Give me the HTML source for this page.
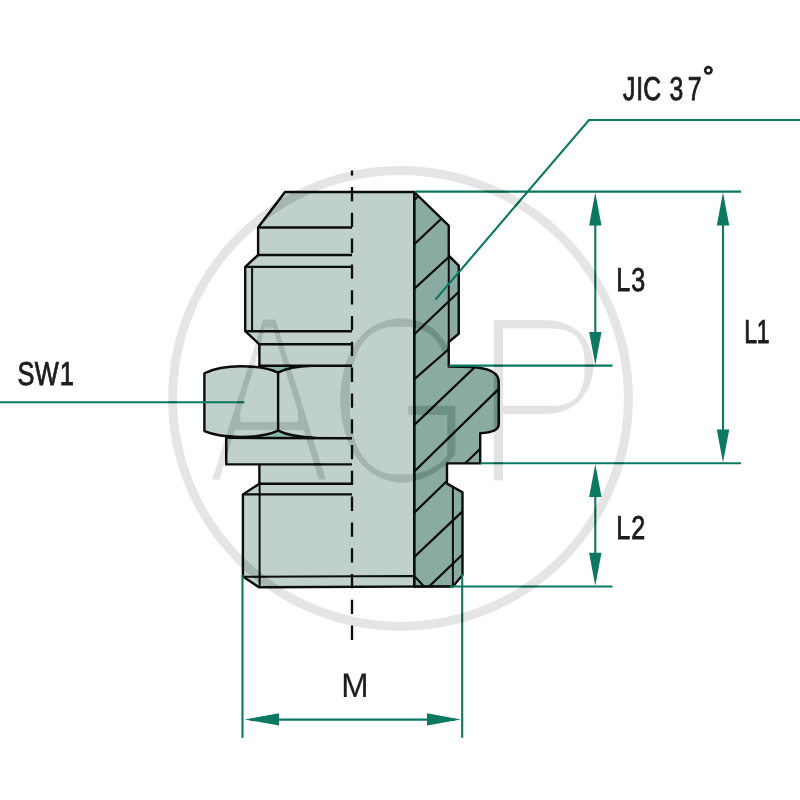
<!DOCTYPE html>
<html lang="en">
<head>
<meta charset="utf-8">
<title>JIC 37° adapter drawing</title>
<style>
html,body{margin:0;padding:0;background:#fff;}
body{width:800px;height:800px;overflow:hidden;}
svg{display:block;}
.lbl{font-family:"Liberation Sans",sans-serif;font-size:33px;fill:#1d1d1b;stroke:#1d1d1b;stroke-width:0.9px;text-rendering:geometricPrecision;}
.lbl text{vector-effect:non-scaling-stroke;}
.lbl .m{font-size:34.2px;stroke-width:0.15px;}
.lbl .deg{font-size:28px;stroke-width:1.2px;}
.k{stroke:#0c0c0c;stroke-width:2.4;fill:none;stroke-linejoin:round;stroke-linecap:butt;}
.k .t{stroke-width:2;}
.g{stroke:#0b7862;stroke-width:2.1;fill:none;}
.a{fill:#0b7862;stroke:none;}
</style>
</head>
<body>
<svg width="800" height="800" viewBox="0 0 800 800">
<defs>
  <clipPath id="sec"><path d="M414.2,192 L448.75,225.6 L448.75,255.6 L458.75,265.6 L458.75,333.75 L448.75,342 L448.75,366.6 L473,367 C483,367.8 492,370.6 495.6,374 C497.6,376 498.6,378.5 498.7,382 L498.7,424.5 C498.6,430 492,432.6 480.2,433.3 L480.2,463.4 L447,463.4 L447,483.6 L462.5,492.2 L462.5,575 L453,586.4 L414.2,586.6 Z"/></clipPath>
  <filter id="thinA" x="-5%" y="-5%" width="110%" height="110%"><feMorphology operator="erode" radius="4 5"/></filter>
  <filter id="thinG" x="-5%" y="-5%" width="110%" height="110%"><feMorphology operator="erode" radius="4 5"/></filter>
  <filter id="thinP" x="-5%" y="-5%" width="110%" height="110%"><feMorphology operator="erode" radius="5 5"/></filter>
</defs>
<rect width="800" height="800" fill="#fff"/>

<!-- exterior (left) body fill -->
<path fill="#c0d0cb" d="M285,192 L414.2,192 L414.2,586.6 L259,587.4 L242.9,576.5 L242.9,494.4 L259.4,483.75 L259.4,464.4 L226.25,464.4 L226.25,437 C214,435.5 208,433.5 204.4,431.2 L204.4,373.2 C212,369 225,366.2 241,366.2 L259.4,366 L259.4,344.3 L245.2,331.2 L245.2,266.9 L258.1,255 L258.1,227.5 Z"/>
<!-- section fill -->
<path fill="#89aba2" d="M414.2,192 L448.75,225.6 L448.75,255.6 L458.75,265.6 L458.75,333.75 L448.75,342 L448.75,366.6 L473,367 C483,367.8 492,370.6 495.6,374 C497.6,376 498.6,378.5 498.7,382 L498.7,424.5 C498.6,430 492,432.6 480.2,433.3 L480.2,463.4 L447,463.4 L447,483.6 L462.5,492.2 L462.5,575 L453,586.4 L414.2,586.6 Z"/>
<!-- nut chamfer triangles -->
<path fill="#8db8ab" d="M258,365.6 L312,365.6 C296,366.4 286,368.2 278.1,372.6 C272,369.3 266,367.4 258,366.6 Z"/>
<path fill="#8db8ab" d="M258,438.1 L316,438.1 C298,437.2 287,435 278.1,430.6 C272,433.8 266,435.8 258,436.8 Z"/>

<!-- hatching -->
<g clip-path="url(#sec)" class="k" style="stroke-width:2.2">
  <path d="M411.20,202.79 L422.20,192.56"/>
  <path d="M411.20,247.24 L454.20,206.60"/>
  <path d="M411.20,291.66 L464.20,242.90"/>
  <path d="M411.20,337.26 L466.20,284.79"/>
  <path d="M411.20,382.03 L459.20,339.98"/>
  <path d="M411.20,427.87 L484.20,358.08"/>
  <path d="M411.20,474.43 L509.20,378.69"/>
  <path d="M411.20,515.65 L494.20,435.31"/>
  <path d="M411.20,559.84 L469.20,505.02"/>
  <path d="M425.00,590.38 L468.00,549.10"/>
</g>

<!-- black outlines -->
<g class="k">
  <path d="M414.2,192 L285,192 L258.1,227.5 L258.1,255 L245.2,266.9 L245.2,331.2 L259.4,344.3 L259.4,366"/>
  <path d="M258.1,227.5 L352,227.5"/>
  <path d="M258.1,255 L352,255"/>
  <path d="M245.2,266.9 L352,266.9"/>
  <path class="t" d="M252.1,266.9 L252.1,331.2"/>
  <path d="M245.2,331.2 L352,331.2"/>
  <path d="M259.4,344.3 L352,344.3"/>
  <!-- nut -->
  <path d="M258.4,365.7 L352,365.7"/>
  <path d="M204.4,373.2 C214,368.4 227,366.2 241,366.2 C255,366.2 268,368 278.1,372.6 C286,368.2 296,366.4 312,365.9"/>
  <path d="M204.4,431.2 C214,435.2 227,437 241,437 C255,437 268,435.2 278.1,430.6 C287,435 298,437.2 316,437.9"/>
  <path d="M204.4,372.6 L204.4,431.8"/>
  <path d="M278.1,372.6 L278.1,430.6"/>
  <path d="M226.25,437.9 L352,438.2"/>
  <!-- collar and lower thread -->
  <path d="M226.25,436.8 L226.25,464.4 L352,464.4"/>
  <path d="M259.4,464.4 L259.4,483.75 L242.9,494.4 L242.9,576.5 L259,587.3 L453,586.4"/>
  <path d="M259.4,483.75 L352,483.75"/>
  <path d="M242.9,494.4 L352,494.4"/>
  <path class="t" d="M259.6,483.75 L259.6,587.3"/>
  <path class="t" d="M242.9,576.7 L414.2,576 L424,586.5"/>
  <!-- section -->
  <path d="M414.2,192 L414.2,586.6"/>
  <path d="M414.2,192 L448.75,225.6 L448.75,255.6 L458.75,265.6 L458.75,333.75 L448.75,342 L448.75,366.6 L473,367 C483,367.8 492,370.6 495.6,374 C497.6,376 498.6,378.5 498.7,382 L498.7,424.5 C498.6,430 492,432.6 480.2,433.3 L480.2,463.4 L447,463.4 L447,483.6 L462.5,492.2 L462.5,575 L453,586.4 L414.2,586.6 Z"/>
  <path class="t" d="M448.75,255.6 L448.75,342"/>
  <path class="t" d="M452.9,487 L452.9,586.4"/>
</g>

<!-- centre line -->
<path d="M352,170.5 L352,175.5 M352,187 L352,640" stroke="#0c0c0c" stroke-width="2.3" fill="none" stroke-dasharray="14.3 11.5"/>

<!-- dimension lines -->
<g class="g">
  <path d="M415.2,191.6 L741,191.6"/>
  <path d="M449,365.6 L612.5,365.6"/>
  <path d="M480.5,463.3 L741,463.3"/>
  <path d="M450,586.5 L612.5,586.5"/>
  <path d="M595.3,200 L595.3,358"/>
  <path d="M595.3,471 L595.3,579"/>
  <path d="M723,200 L723,456"/>
  <path d="M242.5,575 L242.5,737.8"/>
  <path d="M462.2,574 L462.2,737.8"/>
  <path d="M250,719.6 L455,719.6"/>
  <path d="M0,402.2 L244.5,402.2"/>
  <path d="M800,120 L589,120 L435.5,299.5"/>
</g>
<g class="a">
  <path d="M595.3,192.6 L601.5,225.6 L589.1,225.6 Z"/>
  <path d="M595.3,365 L601.5,332 L589.1,332 Z"/>
  <path d="M595.3,464 L601.5,497 L589.1,497 Z"/>
  <path d="M595.3,585.8 L601.5,552.8 L589.1,552.8 Z"/>
  <path d="M723,192.6 L729.2,225.6 L716.8,225.6 Z"/>
  <path d="M723,462.6 L729.2,429.6 L716.8,429.6 Z"/>
  <path d="M244.6,719.4 L279,713.3 L279,725.5 Z"/>
  <path d="M460.8,719.4 L427,713.3 L427,725.5 Z"/>
</g>

<!-- labels -->
<g class="lbl" opacity="0.999">
<text transform="translate(0,100.0) scale(0.75,1)" x="830.55 848.25 857.71 880.75 892.75 917.14">JIC 37</text>
<text class="deg" x="702.65" y="85.9">°</text>
<text transform="translate(0,291.2) scale(0.76,1)" x="810.71 830.76">L3</text>
<text transform="translate(0,343.2) scale(0.7,1)" x="1063.05 1081.02">L1</text>
<text transform="translate(0,539.1) scale(0.76,1)" x="810.71 830.46">L2</text>
<text transform="translate(0,384.6) scale(0.77,1)" x="22.61 45.29 77.55">SW1</text>
<text class="m" transform="translate(0,697) scale(0.96,1)" x="355.4">M</text>
</g>

<!-- watermark -->
<g style="mix-blend-mode:difference">
  <circle cx="400.5" cy="398.3" r="227.9" fill="none" stroke="#1a1a1a" stroke-width="9"/>
  <g font-family="&quot;Liberation Sans&quot;,sans-serif" font-size="247" fill="#1a1a1a">
    <text filter="url(#thinA)" x="204.4" y="485" textLength="128.8" lengthAdjust="spacingAndGlyphs">A</text>
    <text filter="url(#thinG)" x="326.5" y="486" textLength="147.1" lengthAdjust="spacingAndGlyphs">G</text>
    <text filter="url(#thinP)" x="471.8" y="485" textLength="138.1" lengthAdjust="spacingAndGlyphs">P</text>
  </g>
</g>
</svg>
</body>
</html>
